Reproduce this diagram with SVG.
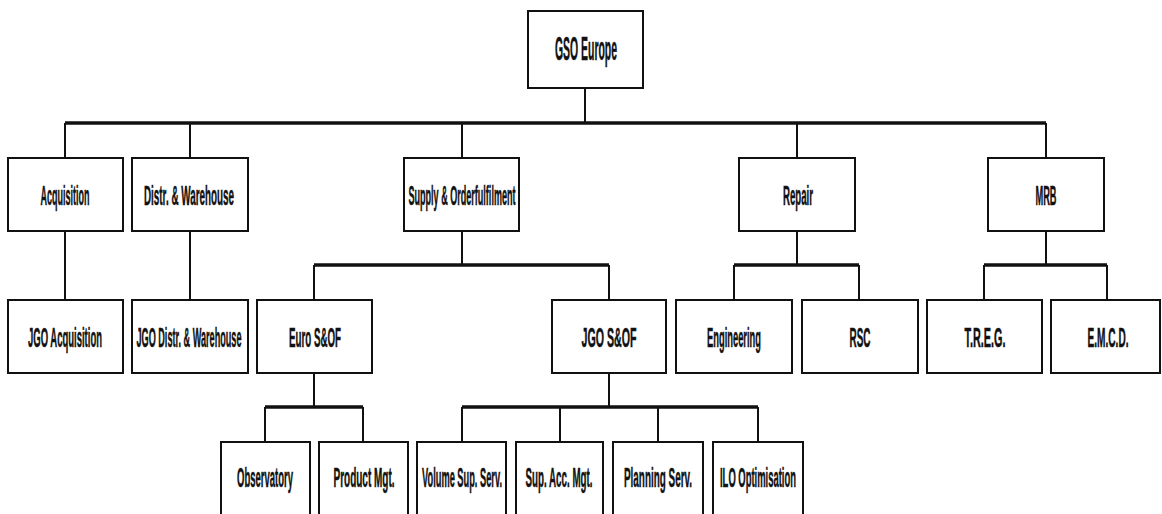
<svg xmlns="http://www.w3.org/2000/svg" width="1162" height="514" viewBox="0 0 1162 514">
  <style>
    .box { fill: #ffffff; stroke: #111111; stroke-width: 2; }
    .lbl { font-family: "Liberation Sans", Arial, sans-serif; font-weight: bold; font-size: 27px; fill: #111111; stroke: #111111; stroke-width: 0.5; text-anchor: middle; }
    .top { font-size: 33px; }
    .link { fill: none; stroke: #111111; stroke-width: 2; }
    .bar { fill: none; stroke: #111111; stroke-width: 3.5; }
  </style>
  <rect x="0" y="0" width="1162" height="514" fill="#ffffff"/>

  <!-- connectors -->
  <g id="connectors">
    <!-- GSO Europe to departments -->
    <path class="link" d="M585 88 V123"/>
    <path class="bar" d="M65 123 H1046"/>
    <path class="link" d="M65 123 V158 M190 123 V158 M462 123 V158 M797 123 V158 M1046 123 V158"/>
    <!-- Acquisition, Distr. & Warehouse -->
    <path class="link" d="M65 231 V300 M190 231 V300"/>
    <!-- Supply & Orderfulfilment -->
    <path class="link" d="M462 231 V265"/>
    <path class="bar" d="M314 265 H609"/>
    <path class="link" d="M314 265 V300 M609 265 V300"/>
    <!-- Repair -->
    <path class="link" d="M797 231 V265"/>
    <path class="bar" d="M734 265 H859"/>
    <path class="link" d="M734 265 V300 M859 265 V300"/>
    <!-- MRB -->
    <path class="link" d="M1046 231 V265"/>
    <path class="bar" d="M984 265 H1107"/>
    <path class="link" d="M984 265 V300 M1107 265 V300"/>
    <!-- Euro S&OF -->
    <path class="link" d="M314 373 V407"/>
    <path class="bar" d="M265 407 H363"/>
    <path class="link" d="M265 407 V442 M363 407 V442"/>
    <!-- JGO S&OF -->
    <path class="link" d="M609 373 V407"/>
    <path class="bar" d="M462 407 H758"/>
    <path class="link" d="M462 407 V442 M560 407 V442 M658 407 V442 M758 407 V442"/>
  </g>

  <!-- root -->
  <g id="gso-europe">
    <rect class="box" x="528" y="11" width="115" height="77"/>
    <text class="lbl top" x="586" y="60" textLength="62" lengthAdjust="spacingAndGlyphs">GSO Europe</text>
  </g>

  <!-- departments -->
  <g id="acquisition">
    <rect class="box" x="8" y="158" width="115" height="73"/>
    <text class="lbl" x="65" y="205" textLength="49" lengthAdjust="spacingAndGlyphs">Acquisition</text>
  </g>
  <g id="distr-warehouse">
    <rect class="box" x="132" y="158" width="116" height="73"/>
    <text class="lbl" x="189" y="205" textLength="90" lengthAdjust="spacingAndGlyphs">Distr. &amp; Warehouse</text>
  </g>
  <g id="supply-orderfulfilment">
    <rect class="box" x="404" y="158" width="115" height="73"/>
    <text class="lbl" x="462" y="205" textLength="107" lengthAdjust="spacingAndGlyphs">Supply &amp; Orderfulfilment</text>
  </g>
  <g id="repair">
    <rect class="box" x="739" y="158" width="116" height="73"/>
    <text class="lbl" x="798" y="205" textLength="30" lengthAdjust="spacingAndGlyphs">Repair</text>
  </g>
  <g id="mrb">
    <rect class="box" x="988" y="158" width="116" height="73"/>
    <text class="lbl" x="1046" y="205" textLength="21" lengthAdjust="spacingAndGlyphs">MRB</text>
  </g>

  <!-- second level -->
  <g id="jgo-acquisition">
    <rect class="box" x="8" y="300" width="115" height="73"/>
    <text class="lbl" x="65" y="347" textLength="74" lengthAdjust="spacingAndGlyphs">JGO Acquisition</text>
  </g>
  <g id="jgo-distr-warehouse">
    <rect class="box" x="132" y="300" width="116" height="73"/>
    <text class="lbl" x="189" y="347" textLength="105" lengthAdjust="spacingAndGlyphs">JGO Distr. &amp; Warehouse</text>
  </g>
  <g id="euro-sof">
    <rect class="box" x="257" y="300" width="115" height="73"/>
    <text class="lbl" x="315" y="347" textLength="52" lengthAdjust="spacingAndGlyphs">Euro S&amp;OF</text>
  </g>
  <g id="jgo-sof">
    <rect class="box" x="552" y="300" width="114" height="73"/>
    <text class="lbl" x="609" y="347" textLength="55" lengthAdjust="spacingAndGlyphs">JGO S&amp;OF</text>
  </g>
  <g id="engineering">
    <rect class="box" x="676" y="300" width="116" height="73"/>
    <text class="lbl" x="734" y="347" textLength="54" lengthAdjust="spacingAndGlyphs">Engineering</text>
  </g>
  <g id="rsc">
    <rect class="box" x="802" y="300" width="116" height="73"/>
    <text class="lbl" x="860" y="347" textLength="21" lengthAdjust="spacingAndGlyphs">RSC</text>
  </g>
  <g id="treg">
    <rect class="box" x="927" y="300" width="115" height="73"/>
    <text class="lbl" x="985" y="347" textLength="41" lengthAdjust="spacingAndGlyphs">T.R.E.G.</text>
  </g>
  <g id="emcd">
    <rect class="box" x="1051" y="300" width="109" height="73"/>
    <text class="lbl" x="1108" y="347" textLength="41" lengthAdjust="spacingAndGlyphs">E.M.C.D.</text>
  </g>

  <!-- third level (boxes run past the lower edge) -->
  <g id="observatory">
    <rect class="box" x="221" y="442" width="89" height="90"/>
    <text class="lbl" x="265" y="487" textLength="56" lengthAdjust="spacingAndGlyphs">Observatory</text>
  </g>
  <g id="product-mgt">
    <rect class="box" x="319" y="442" width="89" height="90"/>
    <text class="lbl" x="364" y="487" textLength="61" lengthAdjust="spacingAndGlyphs">Product Mgt.</text>
  </g>
  <g id="volume-sup-serv">
    <rect class="box" x="417" y="442" width="89" height="90"/>
    <text class="lbl" x="462" y="487" textLength="80" lengthAdjust="spacingAndGlyphs">Volume Sup. Serv.</text>
  </g>
  <g id="sup-acc-mgt">
    <rect class="box" x="516" y="442" width="87" height="90"/>
    <text class="lbl" x="559" y="487" textLength="67" lengthAdjust="spacingAndGlyphs">Sup. Acc. Mgt.</text>
  </g>
  <g id="planning-serv">
    <rect class="box" x="613" y="442" width="90" height="90"/>
    <text class="lbl" x="658" y="487" textLength="68" lengthAdjust="spacingAndGlyphs">Planning Serv.</text>
  </g>
  <g id="ilo-optimisation">
    <rect class="box" x="713" y="442" width="90" height="90"/>
    <text class="lbl" x="758" y="487" textLength="76" lengthAdjust="spacingAndGlyphs">ILO Optimisation</text>
  </g>
</svg>
